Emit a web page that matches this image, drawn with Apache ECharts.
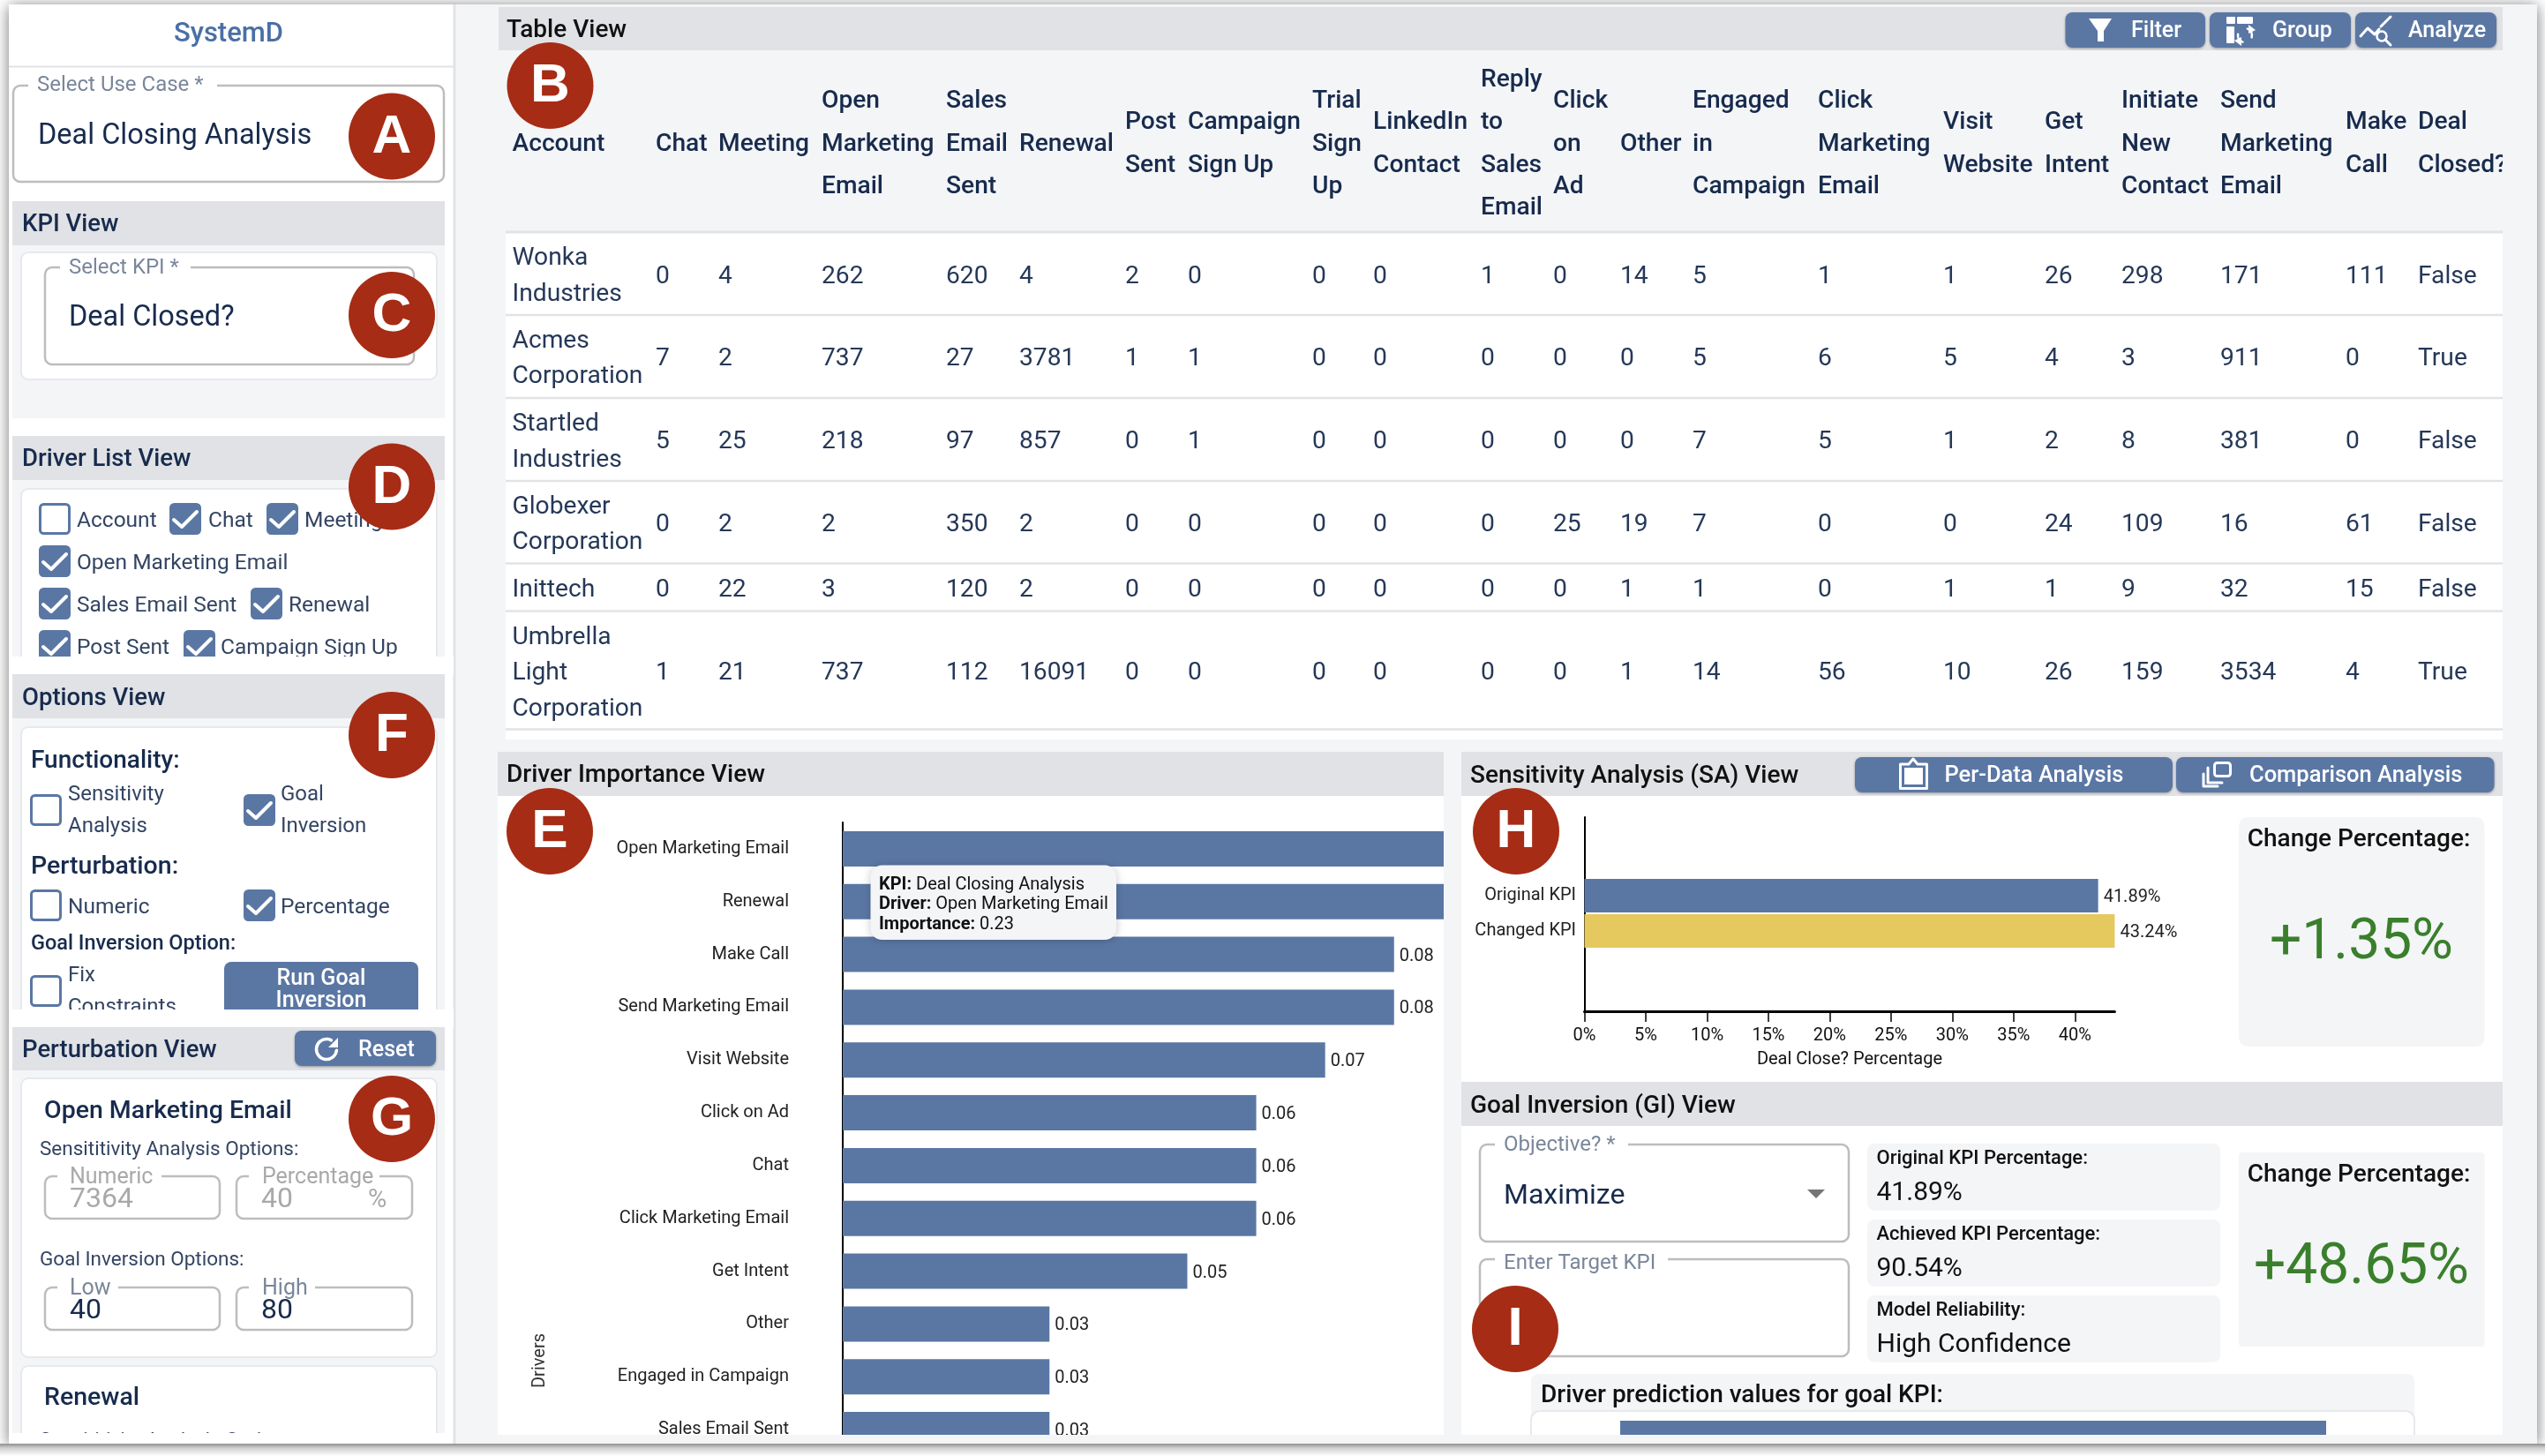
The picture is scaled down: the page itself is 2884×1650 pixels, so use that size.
<!DOCTYPE html>
<html><head><meta charset="utf-8">
<style>html,body{margin:0;padding:0;background:#fff}#c{width:2884px;height:1650px}</style>
<script src="https://cdn.jsdelivr.net/npm/echarts@6/dist/echarts.min.js"></script>
</head><body><div id="c"></div>
<script>
// ---------- data ----------
const tableHeaders = ['Account','Chat','Meeting','Open\nMarketing\nEmail','Sales\nEmail\nSent','Renewal','Post\nSent','Campaign\nSign Up','Trial\nSign\nUp','LinkedIn\nContact','Reply\nto\nSales\nEmail','Click\non\nAd','Other','Engaged\nin\nCampaign','Click\nMarketing\nEmail','Visit\nWebsite','Get\nIntent','Initiate\nNew\nContact','Send\nMarketing\nEmail','Make\nCall','Deal\nClosed?'];
const rowWonka    = ['Wonka\nIndustries',0,4,262,620,4,2,0,0,0,1,0,14,5,1,1,26,298,171,111,'False'];
const rowAcmes    = ['Acmes\nCorporation',7,2,737,27,3781,1,1,0,0,0,0,0,5,6,5,4,3,911,0,'True'];
const rowStartled = ['Startled\nIndustries',5,25,218,97,857,0,1,0,0,0,0,0,7,5,1,2,8,381,0,'False'];
const rowGlobexer = ['Globexer\nCorporation',0,2,2,350,2,0,0,0,0,0,25,19,7,0,0,24,109,16,61,'False'];
const rowInittech = ['Inittech',0,22,3,120,2,0,0,0,0,0,0,1,1,0,1,1,9,32,15,'False'];
const rowUmbrella = ['Umbrella\nLight\nCorporation',1,21,737,112,16091,0,0,0,0,0,0,1,14,56,10,26,159,3534,4,'True'];
const driverNames = ['Open Marketing Email','Renewal','Make Call','Send Marketing Email','Visit Website','Click on Ad','Chat','Click Marketing Email','Get Intent','Other','Engaged in Campaign','Sales Email Sent'];
const driverImportance = [0.23,0.15,0.08,0.08,0.07,0.06,0.06,0.06,0.05,0.03,0.03,0.03];
const saCategories = ['Original KPI','Changed KPI'];
const saValues = [41.89,43.24];
const saTicks = {min:0,max:43.24,interval:5};
const predictionCategories = ['Open Marketing Email'];
const predictionValues = [80];

// ---------- palette ----------
const BG='#f4f5f7',BAR='#e1e2e5',BLUE='#5a77a4',NAVY='#172b4d',CELL='#253858',LBL='#344563',GREY='#7a869a',FIELD='#bdbdbd',RED='#a62c15',GREEN='#3a7f2c',FF='Roboto';
const g=[];
function rect(x,y,w,h,fill,o={}){g.push({type:'rect',z:o.z??-1,shape:{x,y,width:w,height:h,r:o.r||0},style:{fill:fill||'none',stroke:o.stroke,lineWidth:o.lw,shadowBlur:o.blur||0,shadowColor:o.sc,shadowOffsetY:o.oy||0}});}
function text(t,x,y,o={}){const s=o.size||24;g.push({type:'text',z:o.z??-1,x,y:o.raw?y:y+s*0.1,rotation:o.rot||0,style:{text:t,fill:o.fill||NAVY,fontFamily:o.ff||FF,fontSize:s,fontWeight:o.w||400,align:o.align||'left',verticalAlign:'middle',lineHeight:o.lh,rich:o.rich}});}
function hline(x1,x2,y,c,lw,z){g.push({type:'line',z:z??-1,shape:{x1,y1:y,x2,y2:y},style:{stroke:c,lineWidth:lw}});}
function poly(pts,fill,o={}){g.push({type:o.open?'polyline':'polygon',z:o.z??-1,shape:{points:pts},style:{fill:o.open?'none':fill,stroke:o.open?fill:undefined,lineWidth:o.lw||0,lineCap:'round',lineJoin:'round'}});}
function badge(l,cx,cy){g.push({type:'circle',z:60,shape:{cx,cy,r:49},style:{fill:RED}});text(l,cx,cy+1,{z:61,fill:'#fff',size:62,w:700,align:'center',ff:'Liberation Sans',raw:true});}
function check(x,y,on){rect(x+1.5,y+1.5,33,33,on?BLUE:'#fff',{r:4,stroke:BLUE,lw:3});if(on)poly([[x+5,y+19],[x+14,y+27],[x+31,y+10]],'#fff',{open:true,lw:4});}
function field(x1,y1,x2,y2,gap1,gap2){rect(x1,y1,x2-x1,y2-y1,'#fff',{r:8,stroke:FIELD,lw:2.5});rect(gap1,y1-3,gap2-gap1,6,'#fff');}
function button(x,y,w,h){rect(x,y,w,h,BLUE,{r:8,blur:3,sc:'rgba(0,0,0,.35)',oy:1});}
function arc(cx,cy,r,a,b,lw){g.push({type:'arc',z:-1,shape:{cx,cy,r,startAngle:a,endAngle:b,clockwise:true},style:{stroke:'#fff',fill:'none',lineWidth:lw,lineCap:'round'}});}

// window frame
rect(10,5,2865,1631,BG,{blur:16,sc:'rgba(0,0,0,.55)',oy:2});
// left column
rect(10,5,504,1631,'#fff');
g.push({type:'line',z:-1,shape:{x1:515,y1:5,x2:515,y2:1636},style:{stroke:'#e2e3e6',lineWidth:3}});
hline(10,514,75.5,'#e2e3e6',2);
text('SystemD',259,36,{fill:'#4a6fa5',size:31,w:500,align:'center'});
field(15,97,503,206,32,246);
text('Select Use Case *',42,95,{fill:GREY,size:24});
text('Deal Closing Analysis',43,152,{size:32.5,fill:NAVY});
// KPI
rect(14,278,490,196,BG);
rect(14,228,490,50,BAR);
text('KPI View',25,252,{size:27.5,w:500});
rect(24,286,471,144,'#fff',{r:8,stroke:'#e8e9ec',lw:2});
field(51,303,469,413,68,216);
text('Select KPI *',78,302,{fill:GREY,size:24});
text('Deal Closed?',78,358,{size:32.5});
// Driver list
rect(14,544,490,200,BG);
rect(14,494,490,50,BAR);
text('Driver List View',25,518,{size:27.5,w:500});
rect(24,554,471,220,'#fff',{r:8,stroke:'#e8e9ec',lw:2});
[[44,570,0,'Account',87],[192,570,1,'Chat',236],[302,570,1,'Meeting',345],[44,618,1,'Open Marketing Email',87],[44,666,1,'Sales Email Sent',87],[284,666,1,'Renewal',327],[44,714,1,'Post Sent',87],[208,714,1,'Campaign Sign Up',250]].forEach(c=>{check(c[0],c[1],c[2]);text(c[3],c[4],c[1]+18,{size:24.5,fill:LBL});});
rect(10,744,504,20,'#fff');
// Options
rect(14,814,490,330,BG);
rect(14,764,490,50,BAR);
text('Options View',25,789,{size:27.5,w:500});
rect(24,824,471,340,'#fff',{r:8,stroke:'#e8e9ec',lw:2});
text('Functionality:',35,860,{size:28,w:500});
check(34,900,0);text('Sensitivity\nAnalysis',77,917,{size:24,lh:36,fill:LBL});
check(276,900,1);text('Goal\nInversion',318,917,{size:24,lh:36,fill:LBL});
text('Perturbation:',35,980,{size:28.5,w:500});
check(34,1008,0);text('Numeric',77,1026,{size:24.5,fill:LBL});
check(276,1008,1);text('Percentage',318,1026,{size:24.5,fill:LBL});
text('Goal Inversion Option:',35,1068,{size:23.5,w:500});
check(34,1105,0);text('Fix\nConstraints',77,1122,{size:24,lh:36,fill:LBL});
rect(254,1090,220,70,BLUE,{r:8});
text('Run Goal\nInversion',364,1120,{size:25,w:500,fill:'#fff',align:'center',lh:25});
rect(10,1144,504,20,'#fff');
// Perturbation
rect(14,1213,490,411,BG);
rect(14,1164,490,49,BAR);
text('Perturbation View',25,1188,{size:27.5,w:500});
button(334,1168,160,40);
arc(370,1189,11.5,0.1,5.2,3.5);
poly([[383,1176],[383,1187],[372,1187]],'#fff');
text('Reset',406,1188,{size:25,w:500,fill:'#fff'});
rect(24,1222,471,316,'#fff',{r:8,stroke:'#e8e9ec',lw:2});
text('Open Marketing Email',50,1257,{size:28.5,w:500});
text('Sensititivity Analysis Options:',45,1301,{size:22.5,fill:LBL});
field(51,1333,249,1381,65,183);
text('Numeric',79,1332,{size:25,fill:'#a9a9a9'});
text('7364',79,1357,{size:32,fill:'#a9a9a9'});
field(268,1333,467,1381,282,430);
text('Percentage',297,1332,{size:25,fill:'#a9a9a9'});
text('40',296,1357,{size:32,fill:'#a9a9a9'});
text('%',417,1358,{size:29,fill:'#a9a9a9'});
text('Goal Inversion Options:',45,1426,{size:22.5,fill:LBL});
field(51,1459,249,1507,65,134);
text('Low',79,1458,{size:25,fill:GREY});
text('40',79,1483,{size:32});
field(268,1459,467,1507,282,357);
text('High',297,1458,{size:25,fill:GREY});
text('80',296,1483,{size:32});
rect(24,1548,471,110,'#fff',{r:8,stroke:'#e8e9ec',lw:2});
text('Renewal',50,1582,{size:28.5,w:500});
text('Sensititivity Analysis Options:',45,1631,{size:22.5,fill:LBL});
rect(14,1624,490,12,'#fff');

// Table
rect(573,262,2263,576,'#fff');
rect(565,8,2271,49,BAR);
text('Table View',574,32,{size:28,w:500,fill:'#111'});
const colX=[580.5,743,814,931,1072,1155,1275,1346,1487,1556,1678,1760,1836,1918,2060,2202,2317,2404,2516,2658,2740];
tableHeaders.forEach((h,i)=>text(h,colX[i],160.7,{size:28.2,w:500,lh:48.2}));
[[rowWonka,310.7],[rowAcmes,404.4],[rowStartled,498.6],[rowGlobexer,592],[rowInittech,666],[rowUmbrella,760.6]].forEach(r=>r[0].forEach((v,i)=>text(String(v),colX[i],r[1],{size:28.2,fill:CELL,lh:40.4})));
[263,357,451,545,638.5,692.5,826.5].forEach(y=>hline(573,2836,y,'#e2e3e6',y===263?3:2.5));
rect(2836,57,39,790,BG);
rect(2836,8,39,49,BG);
[[2340.5,'Filter',2415],[2504,'Group',2575],[2669,'Analyze',2729]].forEach(b=>{button(b[0],14,b[0]===2340.5?158.5:160,40);text(b[1],b[2],33.5,{size:25,w:500,fill:'#fff'});});
poly([[2367,21],[2393,21],[2384,35],[2384,47],[2377,47],[2377,35]],'#fff');
rect(2523,19,10,8,'#fff',{r:1});rect(2535,19,18,8,'#fff',{r:1});rect(2523,30,9,19,'#fff',{r:1});
arc(2544,40,8,-1.2,0.3,2.5);arc(2544,40,8,1.9,3.3,2.5);
poly([[2548,28],[2556,34],[2548,38]],'#fff');poly([[2540,42],[2532,46],[2540,52]],'#fff');
poly([[2675,41],[2683,32],[2691,39],[2696,33]],'#fff',{open:true,lw:3});
poly([[2698,30],[2709,19]],'#fff',{open:true,lw:3});
g.push({type:'circle',z:-1,shape:{cx:2699,cy:41,r:5.5},style:{fill:'none',stroke:'#fff',lineWidth:2.5}});
poly([[2703,45],[2709,51]],'#fff',{open:true,lw:3});

// Driver importance panel
rect(564,902,1072,724,'#fff');
rect(564,852,1072,50,BAR);
text('Driver Importance View',574,876,{size:28,w:500,fill:'#111'});
text('Drivers',612,1542,{size:20,align:'center',fill:'#333',rot:Math.PI/2,raw:true});
// Tooltip
rect(986.5,980.5,278.5,84.5,BG,{z:55,r:13,blur:10,sc:'rgba(0,0,0,.22)',oy:1});
const TIP={b:{fontFamily:FF,fontSize:20,fontWeight:700,fill:'#111'},n:{fontFamily:FF,fontSize:20,fill:'#111'}};
text('{b|KPI:}{n| Deal Closing Analysis}',996,1001,{z:56,rich:TIP,size:20});
text('{b|Driver:}{n| Open Marketing Email}',996,1023,{z:56,rich:TIP,size:20});
text('{b|Importance:}{n| 0.23}',996,1045.5,{z:56,rich:TIP,size:20});

// Sensitivity panel
rect(1656,902,1180,324,'#fff');
rect(1656,852,1180,50,BAR);
text('Sensitivity Analysis (SA) View',1666,877,{size:28,w:500,fill:'#111'});
button(2102,858,360,40);button(2466,858,360.5,40);
text('Per-Data Analysis',2203.5,877,{size:25.5,w:500,fill:'#fff'});
text('Comparison Analysis',2549,877,{size:25.5,w:500,fill:'#fff'});
g.push({type:'polygon',z:-1,shape:{points:[[2153.5,866],[2163,866],[2168,860],[2173,866],[2183.5,866],[2183.5,893.5],[2153.5,893.5]]},style:{fill:'none',stroke:'#fff',lineWidth:3,lineJoin:'round'}});
rect(2158,870,21,19,'#fff');
rect(2509.5,864.5,18,15,'none',{stroke:'#fff',lw:3,r:3});
poly([[2502,870],[2502,887],[2518,887]],'#fff',{open:true,lw:3});
poly([[2497,877],[2497,891],[2513,891]],'#fff',{open:true,lw:3});
rect(2537,926,278.5,260,BG,{r:10});
text('Change Percentage:',2673,949,{size:28,w:500,fill:'#111',align:'center'});
text('+1.35%',2676,1064,{size:64,fill:GREEN,align:'center'});

// Goal inversion
rect(1656,1276,1180,350,'#fff');
rect(1656,1226,1180,50,BAR);
text('Goal Inversion (GI) View',1666,1251,{size:28,w:500,fill:'#111'});
field(1677,1297,2095,1407,1694,1845);
text('Objective? *',1704,1296,{fill:GREY,size:24});
text('Maximize',1704,1353,{size:32});
poly([[2048,1348],[2068,1348],[2058,1358]],'#757575');
field(1677,1427,2095,1537,1694,1890);
text('Enter Target KPI',1704,1430,{fill:GREY,size:24});
[[1296,'Original KPI Percentage:','41.89%'],[1382,'Achieved KPI Percentage:','90.54%'],[1468,'Model Reliability:','High Confidence']].forEach(r=>{rect(2116,r[0],400,75.7,BG,{r:8});text(r[1],2126.5,r[0]+15,{size:22,w:500,fill:'#111'});text(r[2],2126.5,r[0]+53.5,{size:30,fill:'#111'});});
rect(2537,1306,278.5,220,BG,{r:4});
text('Change Percentage:',2673,1329,{size:28,w:500,fill:'#111',align:'center'});
text('+48.65%',2676,1432,{size:64,fill:GREEN,align:'center'});
rect(1735,1557,1001,80,BG,{r:8});
text('Driver prediction values for goal KPI:',1746,1579,{size:28,w:500,fill:'#111'});
rect(1735,1599,1001,60,'#fff',{r:10,stroke:'#e8e9ec',lw:2});

// overlays that crop scrolled content
rect(520,1626,2355,10,BG,{z:50});
g.push({type:'rect',z:51,shape:{x:0,y:1636,width:2884,height:14},style:{fill:new echarts.graphic.LinearGradient(0,0,0,1,[{offset:0,color:'#8f8f8f'},{offset:.35,color:'#cfcfcf'},{offset:1,color:'#ffffff'}])}});

badge('A',444,154.5);badge('C',444,357);badge('D',444,551.5);badge('F',444,833);badge('G',444,1268);
badge('B',623.5,97);badge('E',623,942);badge('H',1718,942);badge('I',1717,1506);

const importanceMax=0.0872;
const option={
 animation:false,
 backgroundColor:'#fff',
 grid:[
  {left:955,top:932,width:681,height:720},
  {left:1795.5,top:926,width:600.9,height:220},
  {left:1795.5,top:995,width:600.9,height:80},
  {left:1836,top:1610,width:800,height:40}
 ],
 xAxis:[
  {gridIndex:0,type:'value',min:0,max:importanceMax,show:false},
  {gridIndex:1,type:'value',min:saTicks.min,max:saTicks.max,interval:saTicks.interval,splitLine:{show:false},
   axisLine:{show:true,lineStyle:{color:'#000',width:3}},axisTick:{show:true,length:12,lineStyle:{color:'#000',width:1.5}},
   axisLabel:{show:true,formatter:'{value}%',margin:18,fontFamily:FF,fontSize:20,color:'#111',showMaxLabel:false},
   name:'Deal Close? Percentage',nameLocation:'middle',nameGap:45,nameTextStyle:{fontFamily:FF,fontSize:20,color:'#111'}},
  {gridIndex:2,type:'value',min:saTicks.min,max:saTicks.max,show:false},
  {gridIndex:3,type:'value',min:0,max:predictionValues[0],show:false}
 ],
 yAxis:[
  {gridIndex:0,type:'category',inverse:true,data:driverNames,axisLine:{show:true,lineStyle:{color:'#000',width:2}},axisTick:{show:false},
   axisLabel:{margin:61,padding:[3,0,0,0],fontFamily:FF,fontSize:20,color:'#222'}},
  {gridIndex:1,type:'value',min:0,max:1,axisLine:{show:true,onZero:false,lineStyle:{color:'#000',width:2}},axisTick:{show:false},axisLabel:{show:false},splitLine:{show:false}},
  {gridIndex:2,type:'category',inverse:true,data:saCategories,axisLine:{show:false},axisTick:{show:false},axisLabel:{margin:9.5,fontFamily:FF,fontSize:20,color:'#222'}},
  {gridIndex:3,type:'category',data:predictionCategories,show:false}
 ],
 series:[
  {type:'bar',xAxisIndex:0,yAxisIndex:0,barWidth:40,clip:true,itemStyle:{color:BLUE},
   data:driverImportance.map(v=>({value:v,label:{show:v<=importanceMax}})),
   label:{position:'right',distance:6,offset:[0,2],fontFamily:FF,fontSize:20,color:'#222',formatter:p=>p.value.toFixed(2)}},
  {type:'bar',xAxisIndex:2,yAxisIndex:2,barWidth:38,
   data:saValues.map((v,i)=>({value:v,itemStyle:{color:i?'#e5c95f':BLUE}})),
   label:{show:true,position:'right',distance:6,offset:[0,2],fontFamily:FF,fontSize:20,color:'#222',formatter:'{c}%'}},
  {type:'bar',xAxisIndex:3,yAxisIndex:3,barWidth:40,itemStyle:{color:BLUE},data:predictionValues}
 ],
 graphic:{elements:g}
};
const chart=echarts.init(document.getElementById('c'));
chart.setOption(option);
</script></body></html>
